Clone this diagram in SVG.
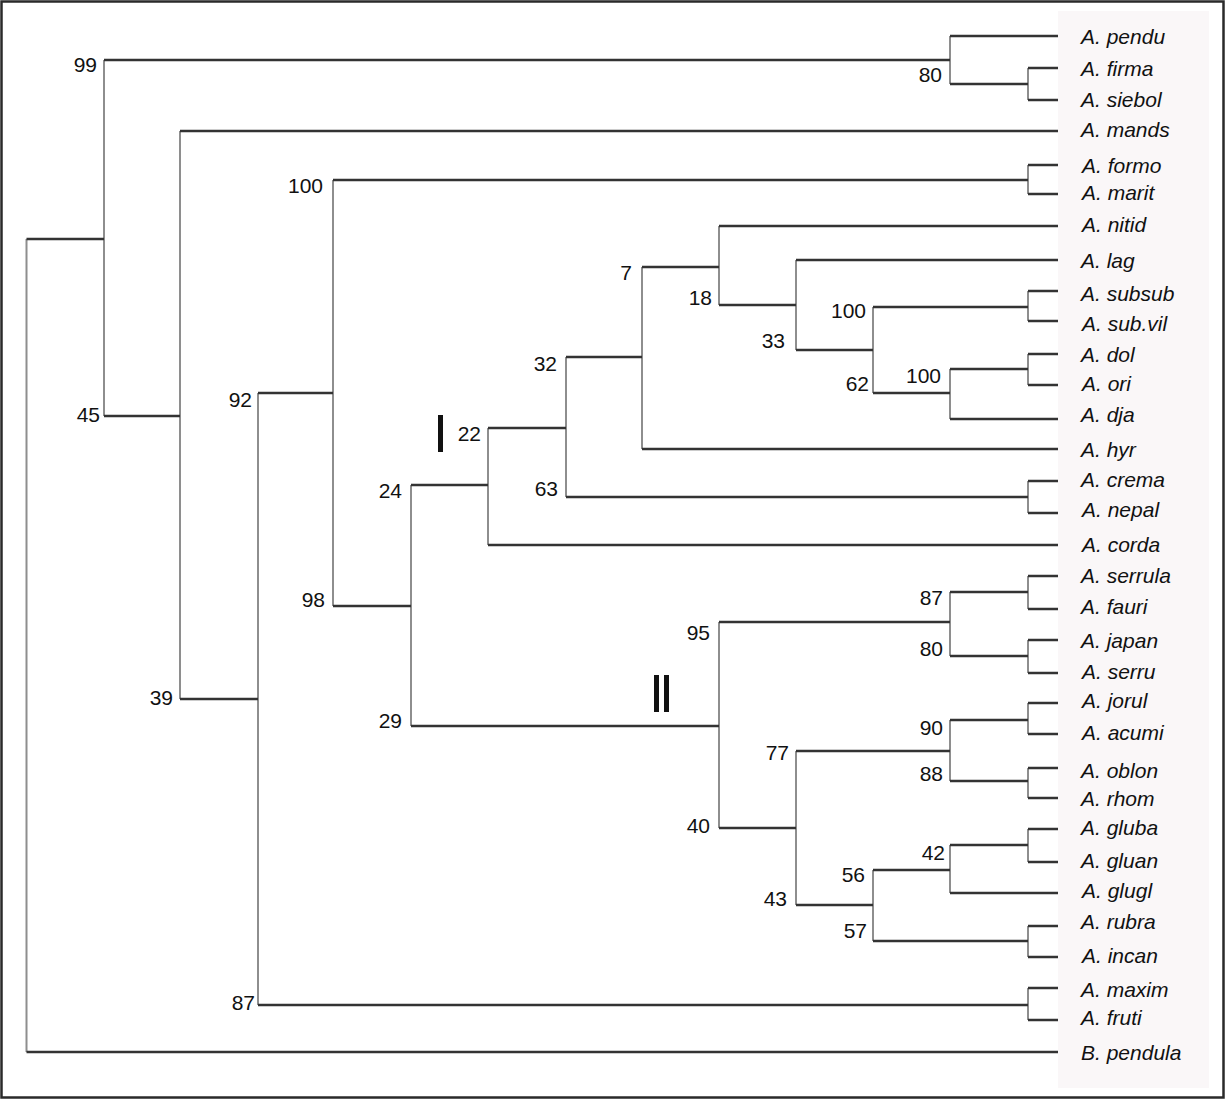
<svg xmlns="http://www.w3.org/2000/svg" width="1225" height="1099" viewBox="0 0 1225 1099">
<style>
.h{stroke:#333;stroke-width:2.5;fill:none}
.v{stroke:#8e8e8e;stroke-width:2;fill:none}
.leaf{font-family:"Liberation Sans",Arial,sans-serif;font-size:21px;font-style:italic;fill:#111}
.bs{font-family:"Liberation Sans",Arial,sans-serif;font-size:21px;fill:#111;text-anchor:end}
.cl{font-family:"Liberation Sans",Arial,sans-serif;font-size:54px;fill:#111}
</style>
<rect x="0" y="0" width="1225" height="1099" fill="#fff"/>
<rect x="1058" y="11" width="151" height="1077" fill="#faf7f8"/>
<rect x="1.5" y="1.5" width="1222" height="1096" fill="none" stroke="#2a2a2a" stroke-width="2.5"/>
<g id="connectors">
<path class="v" d="M26.5 239V1052M104 60V416M950 36V84M1028 68V100M180 131V699M258 393V1005M1028 988V1020M333 180V606M1028 165V194M411 485V726M488 428V545M566 357V497M1028 481V513M642 267V449M719 226V305M796 260V350M873 307V393M1028 291V321M950 369V419M1028 354V385M719 622V828M950 592V656M1028 576V609M1028 640V673M796 751V905M950 720V781M1028 703V734M1028 768V798M873 870V941M950 845V893M1028 829V862M1028 926V957"/>
<path class="h" d="M26.5 239H104M26.5 1052H1058M104 60H950M104 416H180M950 36H1058M950 84H1028M1028 68H1058M1028 100H1058M180 131H1058M180 699H258M258 393H333M258 1005H1028M1028 988H1058M1028 1020H1058M333 180H1028M333 606H411M1028 165H1058M1028 194H1058M411 485H488M411 726H719M488 428H566M488 545H1058M566 357H642M566 497H1028M1028 481H1058M1028 513H1058M642 267H719M642 449H1058M719 226H1058M719 305H796M796 260H1058M796 350H873M873 307H1028M873 393H950M1028 291H1058M1028 321H1058M950 369H1028M950 419H1058M1028 354H1058M1028 385H1058M719 622H950M719 828H796M950 592H1028M950 656H1028M1028 576H1058M1028 609H1058M1028 640H1058M1028 673H1058M796 751H950M796 905H873M950 720H1028M950 781H1028M1028 703H1058M1028 734H1058M1028 768H1058M1028 798H1058M873 870H950M873 941H1028M950 845H1028M950 893H1058M1028 829H1058M1028 862H1058M1028 926H1058M1028 957H1058"/>
</g>
<g id="leaves">
<g id="leaf-pendu"><text class="leaf" x="1081" y="44">A. pendu</text></g>
<g id="leaf-firma"><text class="leaf" x="1081" y="76">A. firma</text></g>
<g id="leaf-siebol"><text class="leaf" x="1081" y="107">A. siebol</text></g>
<g id="leaf-mands"><text class="leaf" x="1081" y="137">A. mands</text></g>
<g id="leaf-formo"><text class="leaf" x="1082" y="173">A. formo</text></g>
<g id="leaf-marit"><text class="leaf" x="1082" y="200">A. marit</text></g>
<g id="leaf-nitid"><text class="leaf" x="1082" y="232">A. nitid</text></g>
<g id="leaf-lag"><text class="leaf" x="1081" y="268">A. lag</text></g>
<g id="leaf-subsub"><text class="leaf" x="1081" y="301">A. subsub</text></g>
<g id="leaf-subvil"><text class="leaf" x="1082" y="331">A. sub.vil</text></g>
<g id="leaf-dol"><text class="leaf" x="1081" y="362">A. dol</text></g>
<g id="leaf-ori"><text class="leaf" x="1082" y="391">A. ori</text></g>
<g id="leaf-dja"><text class="leaf" x="1081" y="422">A. dja</text></g>
<g id="leaf-hyr"><text class="leaf" x="1081" y="457">A. hyr</text></g>
<g id="leaf-crema"><text class="leaf" x="1081" y="487">A. crema</text></g>
<g id="leaf-nepal"><text class="leaf" x="1082" y="517">A. nepal</text></g>
<g id="leaf-corda"><text class="leaf" x="1082" y="552">A. corda</text></g>
<g id="leaf-serrula"><text class="leaf" x="1081" y="583">A. serrula</text></g>
<g id="leaf-fauri"><text class="leaf" x="1081" y="614">A. fauri</text></g>
<g id="leaf-japan"><text class="leaf" x="1081" y="648">A. japan</text></g>
<g id="leaf-serru"><text class="leaf" x="1082" y="679">A. serru</text></g>
<g id="leaf-jorul"><text class="leaf" x="1082" y="708">A. jorul</text></g>
<g id="leaf-acumi"><text class="leaf" x="1082" y="740">A. acumi</text></g>
<g id="leaf-oblon"><text class="leaf" x="1081" y="778">A. oblon</text></g>
<g id="leaf-rhom"><text class="leaf" x="1081" y="806">A. rhom</text></g>
<g id="leaf-gluba"><text class="leaf" x="1081" y="835">A. gluba</text></g>
<g id="leaf-gluan"><text class="leaf" x="1081" y="868">A. gluan</text></g>
<g id="leaf-glugl"><text class="leaf" x="1082" y="898">A. glugl</text></g>
<g id="leaf-rubra"><text class="leaf" x="1081" y="929">A. rubra</text></g>
<g id="leaf-incan"><text class="leaf" x="1082" y="963">A. incan</text></g>
<g id="leaf-maxim"><text class="leaf" x="1081" y="997">A. maxim</text></g>
<g id="leaf-fruti"><text class="leaf" x="1081" y="1025">A. fruti</text></g>
<g id="leaf-bpendula"><text class="leaf" x="1081" y="1060">B. pendula</text></g>
</g>
<g id="internal-nodes">
<g id="n99"><text class="bs" x="97" y="72">99</text></g>
<g id="n45"><text class="bs" x="100" y="422">45</text></g>
<g id="n80a"><text class="bs" x="942" y="82">80</text></g>
<g id="n39"><text class="bs" x="173" y="705">39</text></g>
<g id="n92"><text class="bs" x="252" y="407">92</text></g>
<g id="n87a"><text class="bs" x="255" y="1010">87</text></g>
<g id="n100a"><text class="bs" x="323" y="193">100</text></g>
<g id="n98"><text class="bs" x="325" y="607">98</text></g>
<g id="n24"><text class="bs" x="402" y="498">24</text></g>
<g id="n29"><text class="bs" x="402" y="728">29</text></g>
<g id="n22"><text class="bs" x="481" y="441">22</text></g>
<g id="n32"><text class="bs" x="557" y="371">32</text></g>
<g id="n63"><text class="bs" x="558" y="496">63</text></g>
<g id="n7"><text class="bs" x="632" y="280">7</text></g>
<g id="n18"><text class="bs" x="712" y="305">18</text></g>
<g id="n33"><text class="bs" x="785" y="348">33</text></g>
<g id="n100b"><text class="bs" x="866" y="318">100</text></g>
<g id="n62"><text class="bs" x="869" y="391">62</text></g>
<g id="n100c"><text class="bs" x="941" y="383">100</text></g>
<g id="n95"><text class="bs" x="710" y="640">95</text></g>
<g id="n40"><text class="bs" x="710" y="833">40</text></g>
<g id="n87b"><text class="bs" x="943" y="605">87</text></g>
<g id="n80b"><text class="bs" x="943" y="656">80</text></g>
<g id="n77"><text class="bs" x="789" y="760">77</text></g>
<g id="n43"><text class="bs" x="787" y="906">43</text></g>
<g id="n90"><text class="bs" x="943" y="735">90</text></g>
<g id="n88"><text class="bs" x="943" y="781">88</text></g>
<g id="n56"><text class="bs" x="865" y="882">56</text></g>
<g id="n57"><text class="bs" x="867" y="938">57</text></g>
<g id="n42"><text class="bs" x="945" y="860">42</text></g>
</g>
<g id="clade-labels">
<g id="clade-I"><text class="cl" x="440.5" y="452" text-anchor="middle">I</text></g>
<g id="clade-II"><text class="cl" x="649" y="712" letter-spacing="-5">II</text></g>
</g>
</svg>
